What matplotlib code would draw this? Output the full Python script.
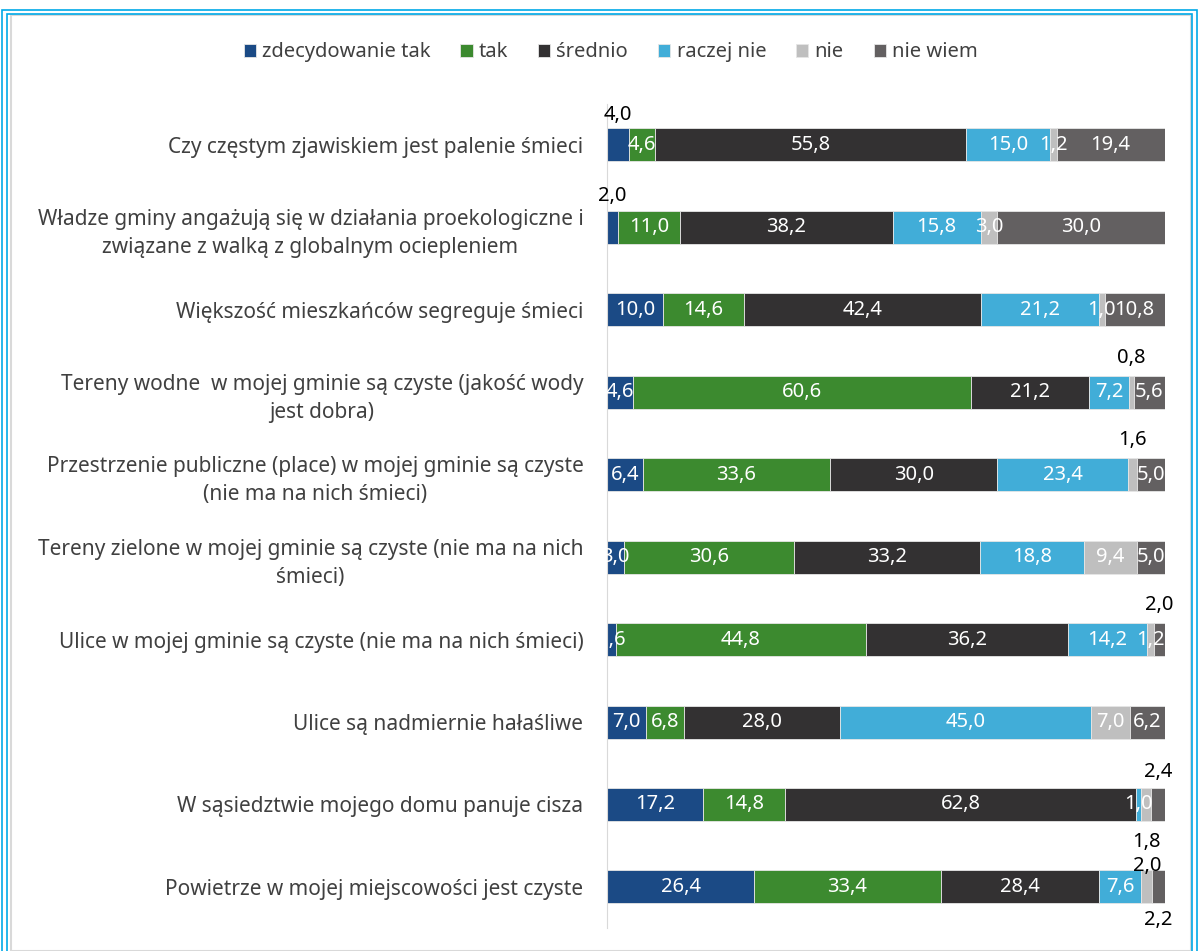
import matplotlib.pyplot as plt
from matplotlib.patches import Rectangle
import numpy as np

plt.rcParams['font.family'] = ['Noto Sans', 'DejaVu Sans']

# dane
categories = [
    'Czy częstym zjawiskiem jest palenie śmieci',
    'Władze gminy angażują się w działania proekologiczne i\nzwiązane z walką z globalnym ociepleniem',
    'Większość mieszkańców segreguje śmieci',
    'Tereny wodne  w mojej gminie są czyste (jakość wody\njest dobra)',
    'Przestrzenie publiczne (place) w mojej gminie są czyste\n(nie ma na nich śmieci)',
    'Tereny zielone w mojej gminie są czyste (nie ma na nich\nśmieci)',
    'Ulice w mojej gminie są czyste (nie ma na nich śmieci)',
    'Ulice są nadmiernie hałaśliwe',
    'W sąsiedztwie mojego domu panuje cisza',
    'Powietrze w mojej miejscowości jest czyste',
]
series_names = ['zdecydowanie tak', 'tak', 'średnio', 'raczej nie', 'nie', 'nie wiem']

zdecydowanie_tak = [4.0, 2.0, 10.0, 4.6, 6.4, 3.0, 1.6, 7.0, 17.2, 26.4]
tak = [4.6, 11.0, 14.6, 60.6, 33.6, 30.6, 44.8, 6.8, 14.8, 33.4]
srednio = [55.8, 38.2, 42.4, 21.2, 30.0, 33.2, 36.2, 28.0, 62.8, 28.4]
raczej_nie = [15.0, 15.8, 21.2, 7.2, 23.4, 18.8, 14.2, 45.0, 1.0, 7.6]
nie = [1.2, 3.0, 1.0, 0.8, 1.6, 9.4, 1.2, 7.0, 1.8, 2.0]
nie_wiem = [19.4, 30.0, 10.8, 5.6, 5.0, 5.0, 2.0, 6.2, 2.4, 2.2]

colors = ['#1B4A85', '#3C8A2F', '#333132', '#41ADD8', '#BFBFBF', '#636061']

# etykiety rysowane poza słupkiem: (wiersz, seria) -> przesunięcie w pionie
outside = {(0, 0): -0.36, (1, 0): -0.38, (3, 4): -0.42, (4, 4): -0.42,
           (6, 5): -0.42, (8, 5): -0.40, (8, 4): 0.46, (9, 4): -0.25, (9, 5): 0.40}

fs = 14.5

fig = plt.figure(figsize=(12.02, 9.51), dpi=100)

# ramka
fig.patches.append(Rectangle((0.009, 0.0), 0.982, 0.984, transform=fig.transFigure,
                             fill=False, edgecolor='#D9D9D9', linewidth=1.5))
for off in (0.0, 0.004):
    fig.patches.append(Rectangle((0.002 + off, -0.01), 0.994 - 2 * off, 0.999 - off,
                                 transform=fig.transFigure, fill=False,
                                 edgecolor='#00A9E8', linewidth=1.2))

ax = fig.add_axes([0.505, 0.024, 0.464, 0.867])

data = [zdecydowanie_tak, tak, srednio, raczej_nie, nie, nie_wiem]
y = np.arange(len(categories))
left = np.zeros(len(categories))
for s, (vals, name, col) in enumerate(zip(data, series_names, colors)):
    vals = np.array(vals)
    ax.barh(y, vals, left=left, height=0.4, color=col, label=name,
            edgecolor='#E6E6E6', linewidth=0.6)
    for i, v in enumerate(vals):
        txt = f'{v:.1f}'.replace('.', ',')
        xc = left[i] + v / 2
        if (i, s) in outside:
            ax.text(xc, i + outside[(i, s)], txt, ha='center', va='center',
                    fontsize=fs, color='black')
        else:
            ax.text(xc, i, txt, ha='center', va='center', fontsize=fs, color='white')
    left += vals

ax.set_xlim(0, 100)
ax.set_ylim(len(categories) - 0.5, -0.5)
ax.set_yticks(y)
ax.set_yticklabels(categories, fontsize=15, color='#404040', multialignment='center',
                   linespacing=1.45)
ax.tick_params(axis='y', length=0, pad=17)
ax.set_xticks([])
for sp in ['top', 'right', 'bottom']:
    ax.spines[sp].set_visible(False)
ax.spines['left'].set_color('#D9D9D9')

fig.legend(loc='center', bbox_to_anchor=(0.508, 0.945), ncols=6, frameon=False,
           fontsize=fs, handlelength=0.6, handleheight=0.6, handletextpad=0.3,
           columnspacing=1.5, labelcolor='#404040')

fig.savefig('out.png', dpi=100)
plt.close()
